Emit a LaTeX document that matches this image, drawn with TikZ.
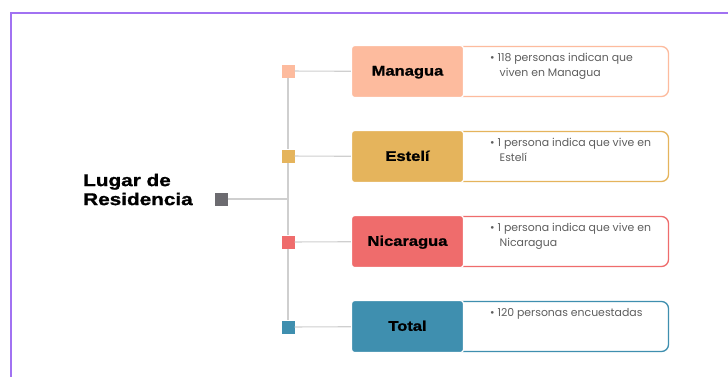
\documentclass[tikz,border=0pt]{standalone}
\usepackage{fontspec}
\setmainfont{Poppins}
\newfontfamily\headfont[FakeStretch=1.18,FakeBold=1.2]{Liberation Sans}
\newfontfamily\titlefont[FakeStretch=1.22,FakeBold=1.2]{Liberation Sans}
\definecolor{frameviolet}{HTML}{A172F2}
\definecolor{trunkgray}{HTML}{CFCFCF}
\definecolor{rootgray}{HTML}{6C6B70}
\definecolor{cManagua}{HTML}{FDBB9E}
\definecolor{cEsteli}{HTML}{E5B45C}
\definecolor{cNicaragua}{HTML}{EF6C6C}
\definecolor{cTotal}{HTML}{3F8FAF}
\definecolor{desctext}{HTML}{5E5E5E}
\begin{document}
\begin{tikzpicture}[x=1pt,y=-1pt,
  leaf/.style={rectangle,fill=#1,minimum size=13pt,inner sep=0pt},
  labelbox/.style={rectangle,rounded corners=3pt,fill=#1,draw=white,line width=1.2pt,
    minimum width=112pt,minimum height=52pt,inner sep=0pt,text depth=1.5pt,
    font=\headfont\bfseries\fontsize{14}{16}\selectfont,text=black},
  descbox/.style={rectangle,rounded corners=7pt,fill=white,draw=#1,line width=1.3pt,
    minimum width=213pt,minimum height=50pt,inner sep=0pt},
  desc/.style={anchor=north west,align=left,inner sep=0pt,text=desctext,
    font=\fontsize{10.9}{15}\selectfont},
  branch/.style={draw=trunkgray,line width=1.1pt}]

\useasboundingbox (0,0) rectangle (728,376);
\fill[white] (0,0) rectangle (728,376);

% outer frame
\draw[frameviolet,line width=2.2pt] (11,380) -- (11,13) -- (732,13);

% title and root marker
\node[anchor=west,align=left,inner sep=0pt,font=\titlefont\bfseries\fontsize{17}{19}\selectfont]
  (title) at (83,189.5) {Lugar de\\Residencia};
\node[leaf=rootgray] (root) at (221,199) {};
\coordinate (junction) at (288,199);

% leaf markers
\node[leaf=cManagua]   (sq1) at (288,71) {};
\node[leaf=cEsteli]    (sq2) at (288,156) {};
\node[leaf=cNicaragua] (sq3) at (288,242) {};
\node[leaf=cTotal]     (sq4) at (288,327) {};

% detail boxes
\node[descbox=cManagua]   (d1) at (562,71.5) {};
\node[descbox=cEsteli]    (d2) at (562,156.5) {};
\node[descbox=cNicaragua] (d3) at (562,241.5) {};
\node[descbox=cTotal]     (d4) at (562,326.5) {};

% category boxes
\node[labelbox=cManagua]   (b1) at (407.5,71.5) {Managua};
\node[labelbox=cEsteli]    (b2) at (407.5,156.5) {Estelí};
\node[labelbox=cNicaragua] (b3) at (407.5,241.5) {Nicaragua};
\node[labelbox=cTotal]     (b4) at (407.5,326.5) {Total};

% connectors
\path[branch] (root) -- (junction);
\path[branch] (sq1) -- (b1);
\path[branch] (sq2) -- (b2);
\path[branch] (sq3) -- (b3);
\path[branch] (sq4) -- (b4);
\path[branch] (sq1) -- (sq2);
\path[branch] (sq2) -- (sq3);
\path[branch] (sq3) -- (sq4);

% detail texts
\node[desc] (t1) at (490,53) {• 118 personas indican que\\\hspace*{9.5pt}viven en Managua};
\node[desc] (t2) at (490,138) {• 1 persona indica que vive en\\\hspace*{9.5pt}Estelí};
\node[desc] (t3) at (490,223) {• 1 persona indica que vive en\\\hspace*{9.5pt}Nicaragua};
\node[desc] (t4) at (490,308) {• 120 personas encuestadas};
\end{tikzpicture}
\end{document}
